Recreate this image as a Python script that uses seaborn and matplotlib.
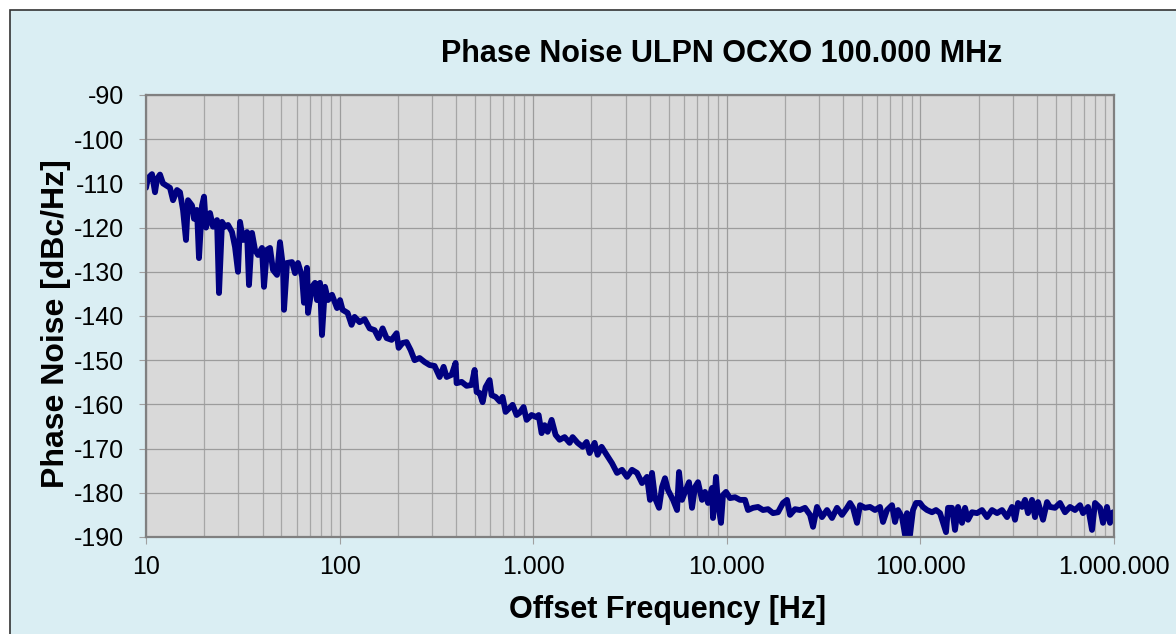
import matplotlib
matplotlib.use('Agg')
import numpy as np
import pandas as pd
import matplotlib.pyplot as plt
import seaborn as sns
from matplotlib.patches import Rectangle
from matplotlib.ticker import FixedLocator, LogLocator, NullFormatter

# values
freq_hz = [
    10.0, 10.24, 10.74, 11.13, 11.40, 11.81, 12.24, 13.30, 13.79, 14.46,
    14.98, 15.53, 16.09, 16.48, 17.29, 17.70, 18.34, 18.78, 19.47, 19.94,
    20.42, 21.41, 22.19, 23.27, 23.83, 24.70, 25.59, 26.52, 27.81, 28.83,
    29.87, 30.59, 31.70, 33.25, 34.04, 35.28, 36.56, 37.89, 39.72, 40.69,
    42.17, 43.70, 45.29, 47.50, 49.21, 51.02, 51.63, 53.50, 56.77, 58.84,
    60.95, 63.95, 65.46, 67.85, 68.67, 72.01, 74.64, 76.42, 79.21, 81.10,
    84.07, 87.10, 91.35, 96.96, 100.5,
    103.6, 110.0, 115.3, 119.5, 126.8, 134.6, 142.9, 151.6, 159.0, 166.8,
    174.9, 185.6, 197.0, 201.8, 211.5, 221.8, 232.7, 244.0, 258.9, 274.8,
    291.7, 309.5, 328.6, 344.6, 357.1, 378.9, 397.4, 402.1, 426.8, 452.9,
    480.7, 498.2, 510.2, 528.7, 547.9, 567.7, 595.4, 609.7, 639.5, 670.6,
    695.0, 720.1, 755.1, 782.6, 820.8, 850.6, 892.0, 924.7, 981.0, 1041,
    1067, 1105, 1145, 1187, 1245, 1305, 1369, 1453, 1542, 1598,
    1696, 1800, 1887, 1956, 2076, 2151, 2256, 2394,
    2553, 2710, 2876, 3052, 3239, 3438, 3648, 3871, 4012, 4108,
    4258, 4465, 4628, 4795, 4971, 5275, 5533, 5665, 5871, 6084,
    6379, 6612, 6853, 7101, 7445, 7716, 7998, 8386, 8486, 8794,
    9006, 9333, 9559, 9906, 10388, 11025, 11701, 12417, 12870, 13658,
    14497, 15382, 16325, 17324, 18387, 19513, 20464, 21205, 22507, 23882,
    25346, 26906, 27883, 29236, 31016, 32935, 34950, 37090, 39356, 41772,
    43290, 44870, 47040, 48750, 51740, 54920, 58280, 61840, 64090, 67220,
    71340, 73930, 76630, 80350, 83270, 85270, 88370, 91580, 94910, 99520,
    103100, 108200, 114800, 120400, 126300, 130900, 135600, 138900, 145600, 150900,
    156400, 164000, 170000, 176200, 184700, 196100, 208100, 220800, 234400, 248800,
    264000, 280200, 297300, 308100, 319300, 334900, 347100, 359700, 377100, 390800,
    405000, 429900, 450800, 467100, 495700, 526100, 558400, 592600, 629000, 667500,
    691800, 734200, 769900, 797900, 846700, 877500, 919900, 953500, 988100,
]
phase_noise_dbc = [
    -111, -108.8, -107.9, -112, -109, -108, -110, -111, -113.8, -111.5,
    -112, -116, -122.8, -113.8, -115, -118, -116, -126.9, -115, -113,
    -120, -116.7, -119.8, -118.3, -134.8, -118.7, -119.8, -119.4, -121, -124.4,
    -130, -118.7, -122.8, -121, -133, -121.2, -125, -126.2, -124.6, -133.4,
    -125, -124.6, -129.6, -130.7, -123.3, -128.9, -138.6, -128, -127.8, -130.3,
    -128, -131, -137, -129.1, -139.3, -133.4, -132.5, -136.4, -132.5, -144.3,
    -133.4, -136.4, -135.2, -138.2, -136.4,
    -138.6, -139.3, -142, -140.2, -141.4, -140.7, -142.8, -143.2, -145, -142.8,
    -145, -145.4, -143.9, -147.2, -146.1, -145.9, -147.7, -150, -149.5, -150.4,
    -151.1, -151.3, -153.8, -151.5, -153.8, -153.3, -150.6, -155.2, -154.9, -155.8,
    -155.6, -152.2, -157.2, -157.4, -159.5, -156.1, -154.5, -157.9, -158.3, -159.3,
    -158.3, -161.7, -160.8, -160.1, -162.4, -161.9, -160.6, -163.5, -162.4, -162.9,
    -162.4, -166.5, -164.7, -166.2, -163.5, -166.9, -168, -167.4, -168.7, -167.4,
    -168.7, -169.6, -168.5, -171, -168.7, -171.4, -169.6, -171.4,
    -173.3, -175.5, -174.8, -176.4, -174.8, -175.5, -177.8, -176.4, -181.6, -175.5,
    -181.2, -183.4, -178.7, -176.7, -179.4, -181.6, -183.9, -175.3, -181.6, -179.8,
    -177.6, -183.4, -178.7, -177.6, -181.6, -179.8, -182.3, -178.9, -185.7, -176.4,
    -182.3, -186.8, -180.5, -179.8, -181.2, -181, -181.6, -181.6, -183.9, -183.4,
    -183.2, -183.9, -183.7, -184.6, -184.4, -182.3, -181.6, -185, -183.7, -183.9,
    -183.4, -185, -187.7, -183.2, -185.5, -183.9, -185.7, -183.4, -185, -183.4,
    -182.3, -183.4, -186.8, -182.8, -183.4, -183.2, -183.9, -183.2, -186.6, -183.9,
    -182.8, -186.6, -183.9, -185.5, -189.5, -184.6, -189.5, -183.9, -182.3, -182.3,
    -183.2, -183.9, -184.4, -183.9, -184.6, -186.8, -188.9, -183.4, -183.4, -188.4,
    -183.2, -186.8, -183.4, -186.1, -184.4, -184.6, -183.9, -185.5, -183.9, -184.6,
    -183.9, -185.5, -183.2, -186.1, -182.3, -183.2, -181.6, -184.6, -181.6, -185.5,
    -182.1, -186.1, -182.1, -183.2, -183.4, -182.3, -184.4, -183.2, -183.9, -182.8,
    -184.6, -183.2, -188.4, -182.3, -183.4, -186.8, -183.2, -186.8, -184.4,
]
x_ticks = [10, 100, 1000, 10000, 100000, 1000000]
x_tick_labels = ['10', '100', '1.000', '10.000', '100.000', '1.000.000']
y_ticks = list(range(-190, -89, 10))

sns.set_style('ticks')
plt.rcParams['font.family'] = ['Liberation Sans', 'DejaVu Sans']
plt.rcParams['text.color'] = 'black'
plt.rcParams['axes.labelcolor'] = 'black'

df = pd.DataFrame({'freq': freq_hz, 'pn': phase_noise_dbc})

W, H = 1176, 634
fig = plt.figure(figsize=(W / 100, H / 100), dpi=100, facecolor='white')
# chart area background with its dark frame (cropped on right/bottom)
fig.patches.append(Rectangle((10 / W, -0.05), 1.1, 1 - 10 / H + 0.05, transform=fig.transFigure,
                             facecolor='#DAEEF3', edgecolor='#333333', linewidth=1.2, zorder=-10))

ax = fig.add_axes([146 / W, 1 - 537 / H, (1114 - 146) / W, (537 - 95) / H])
ax.set_facecolor('#D9D9D9')

sns.lineplot(data=df, x='freq', y='pn', ax=ax, color='#000080', linewidth=4.2,
             estimator=None, sort=False)

ax.set_xscale('log')
ax.set_xlim(10, 1e6)
ax.set_ylim(-190, -90)
ax.xaxis.set_major_locator(FixedLocator(x_ticks))
ax.set_xticklabels(x_tick_labels)
ax.xaxis.set_minor_locator(LogLocator(base=10, subs=np.arange(2, 10)))
ax.xaxis.set_minor_formatter(NullFormatter())
ax.set_yticks(y_ticks)
ax.set_yticklabels([str(v) for v in y_ticks])

ax.grid(True, which='major', axis='both', color='#9C9C9C', linewidth=0.9)
ax.grid(True, which='minor', axis='x', color='#A6A6A6', linewidth=0.9)
ax.set_axisbelow(True)

for sp in ax.spines.values():
    sp.set_visible(True)
    sp.set_color('#808080')
    sp.set_linewidth(1.6)

ax.tick_params(axis='both', which='major', direction='out', length=5, width=0.8,
               color='#A0A0A0', labelsize=18, labelcolor='black')
ax.tick_params(axis='y', pad=11)
ax.tick_params(axis='x', pad=8)
ax.tick_params(axis='x', which='minor', length=0)

ax.set_xlabel('Offset Frequency [Hz]', fontsize=22, fontweight='bold')
ax.set_ylabel('Phase Noise [dBc/Hz]', fontsize=23, fontweight='bold')
ax.xaxis.label.set_va('center')
ax.yaxis.label.set_va('center')
ax.xaxis.set_label_coords(0.5 + (668 - 630) / 968, -(610 - 537) / 442)
ax.yaxis.set_label_coords(-(146 - 56) / 968, (537 - 324) / 442)
fig.text(722 / W, 1 - 54 / H, 'Phase Noise ULPN OCXO 100.000 MHz', ha='center', va='center',
         fontsize=22, fontweight='bold')

fig.savefig('out.png', dpi=100, facecolor=fig.get_facecolor())
